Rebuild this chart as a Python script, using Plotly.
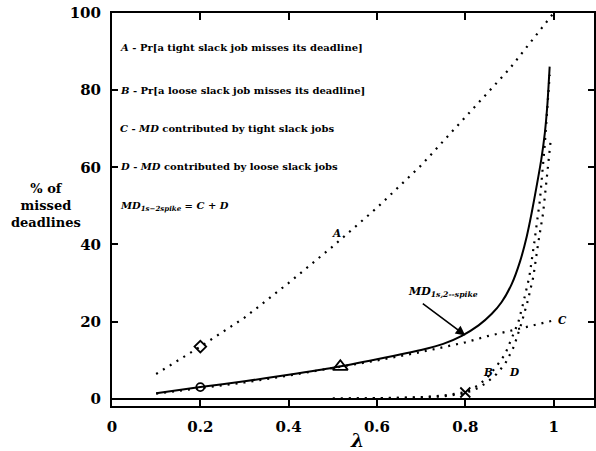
import plotly.graph_objects as go

# ---- data ----
lam_A = [0.1, 0.2, 0.3, 0.4, 0.5, 0.6, 0.7, 0.8, 0.9, 1.0]
pct_A = [6.4, 13.5, 21.0, 30.0, 39.5, 49.5, 60.5, 73.0, 85.5, 100.0]

lam_B = [0.5, 0.6, 0.65, 0.7, 0.75, 0.8, 0.83, 0.85, 0.87, 0.89, 0.905, 0.92, 0.931, 0.945, 0.956, 0.969, 0.98, 0.991]
pct_B = [0.0, 0.1, 0.2, 0.4, 0.8, 1.7, 3.5, 5.5, 8.3, 11.5, 15.5, 19.8, 24.7, 31.6, 40.3, 51.5, 66.0, 84.0]

lam_C = [0.1, 0.2, 0.3, 0.4, 0.5, 0.6, 0.7, 0.75, 0.8, 0.85, 0.9, 0.95, 1.0]
pct_C = [1.3, 2.7, 4.2, 6.0, 7.9, 9.9, 12.1, 13.4, 14.6, 16.2, 17.5, 18.9, 20.3]

lam_D = [0.5, 0.6, 0.65, 0.7, 0.75, 0.8, 0.83, 0.85, 0.87, 0.89, 0.91, 0.927, 0.942, 0.954, 0.965, 0.976, 0.984, 0.993]
pct_D = [0.0, 0.1, 0.15, 0.3, 0.6, 1.4, 2.8, 4.3, 6.3, 9.0, 13.5, 19.5, 25.6, 31.6, 40.3, 48.0, 56.7, 66.6]

lam_MD = [0.1, 0.2, 0.3, 0.4, 0.5, 0.6, 0.7, 0.75, 0.792, 0.83, 0.86, 0.882, 0.905, 0.924, 0.939, 0.95, 0.961, 0.972, 0.98, 0.986, 0.991]
pct_MD = [1.4, 3.0, 4.5, 6.2, 8.0, 10.2, 12.6, 14.2, 16.3, 19.0, 22.0, 25.0, 29.7, 35.6, 42.0, 48.0, 54.8, 62.0, 68.8, 76.5, 86.1]

# marked sample points
mark_diamond = ([0.2], [13.5])
mark_circle = ([0.2], [3.0])
mark_triangle = ([0.517], [8.3])
mark_x = ([0.8], [1.6])

x_ticks = [0, 0.2, 0.4, 0.6, 0.8, 1.0]
x_ticklabels = ["0", "0.2", "0.4", "0.6", "0.8", "1"]
y_ticks = [0, 20, 40, 60, 80, 100]

FONT = "DejaVu Serif"
DOT = "2px,6px"

fig = go.Figure()
for xs, ys in [(lam_A, pct_A), (lam_B, pct_B), (lam_C, pct_C), (lam_D, pct_D)]:
    fig.add_trace(go.Scatter(x=xs, y=ys, mode="lines",
                             line=dict(color="black", width=2.2, dash=DOT),
                             showlegend=False, hoverinfo="skip", cliponaxis=False))
fig.add_trace(go.Scatter(x=lam_MD, y=pct_MD, mode="lines",
                         line=dict(color="black", width=2, shape="spline", smoothing=0.6),
                         showlegend=False, hoverinfo="skip"))

for (xs, ys), sym, sz in [(mark_diamond, "diamond-open", 9), (mark_circle, "circle-open", 8),
                          (mark_triangle, "triangle-up-open", 13), (mark_x, "x-thin-open", 10)]:
    fig.add_trace(go.Scatter(x=xs, y=ys, mode="markers",
                             marker=dict(symbol=sym, size=sz, color="black",
                                         line=dict(color="black", width=1.8)),
                             showlegend=False, hoverinfo="skip"))

anns = []
legend_lines = [
    ("<i>A</i> - Pr[a tight slack job misses its deadline]", 48),
    ("<i>B</i> - Pr[a loose slack job misses its deadline]", 90),
    ("<i>C</i> - <i>MD</i> contributed by tight slack jobs", 128),
    ("<i>D</i> - <i>MD</i> contributed by loose slack jobs", 166),
    ("<i>MD</i><sub><i>1s−2spike</i></sub> = <i>C</i> + <i>D</i>", 206),
]
for txt, ypix in legend_lines:
    anns.append(dict(text="<b>" + txt + "</b>", xref="paper", yref="paper",
                     x=(119 - 112.5) / 483.5, y=(406 - ypix) / 393,
                     xanchor="left", yanchor="middle", showarrow=False,
                     font=dict(family=FONT, size=10, color="black")))

for t, x, y in [("A", 0.508, 43.0), ("B", 0.852, 7.0), ("D", 0.912, 7.0), ("C", 1.02, 20.3)]:
    anns.append(dict(text="<b><i>" + t + "</i></b>", x=x, y=y, xref="x", yref="y",
                     showarrow=False, font=dict(family=FONT, size=10.5, color="black")))

# MD annotation with arrow
anns.append(dict(text="<b><i>MD<sub>1s,2--spike</sub></i></b>", x=0.749, y=27.6, xref="x", yref="y",
                 showarrow=False, font=dict(family=FONT, size=11, color="black")))
anns.append(dict(text=" ", x=0.80, y=16.4, xref="x", yref="y", ax=-44, ay=-33,
                 showarrow=True, arrowhead=2, arrowsize=1.2, arrowwidth=1.6, arrowcolor="black",
                 font=dict(size=1)))

# axis titles
anns.append(dict(text="<b>% of<br>missed<br>deadlines</b>", xref="paper", yref="paper",
                 x=(46 - 112.5) / 483.5, y=(406 - 205) / 393, xanchor="center", yanchor="middle",
                 showarrow=False, font=dict(family=FONT, size=13, color="black")))
anns.append(dict(text="<b><i>λ</i></b>", xref="paper", yref="paper",
                 x=(358 - 112.5) / 483.5, y=(406 - 440) / 393, xanchor="center", yanchor="middle",
                 showarrow=False, font=dict(family=FONT, size=19, color="black")))

fig.update_layout(
    width=596, height=451,
    margin=dict(l=112, r=0, t=13, b=45),
    paper_bgcolor="white", plot_bgcolor="white",
    annotations=anns,
    xaxis=dict(range=[0, 1.0914], tickvals=x_ticks, ticktext=x_ticklabels,
               ticks="inside", ticklen=7, tickwidth=1.5, tickcolor="black",
               showline=True, linecolor="black", linewidth=2, mirror="ticks",
               showgrid=False, zeroline=False, ticklabelstandoff=6,
               tickfont=dict(family=FONT, size=15, color="black", weight="bold")),
    yaxis=dict(range=[-1.9, 100], tickvals=y_ticks,
               ticks="inside", ticklen=6, tickwidth=1.5, tickcolor="black",
               showline=True, linecolor="black", linewidth=2, mirror="ticks",
               showgrid=False, zeroline=True, zerolinecolor="black", zerolinewidth=2,
               ticklabelstandoff=6,
               tickfont=dict(family=FONT, size=15, color="black", weight="bold")),
)

fig.write_html("out.html")
